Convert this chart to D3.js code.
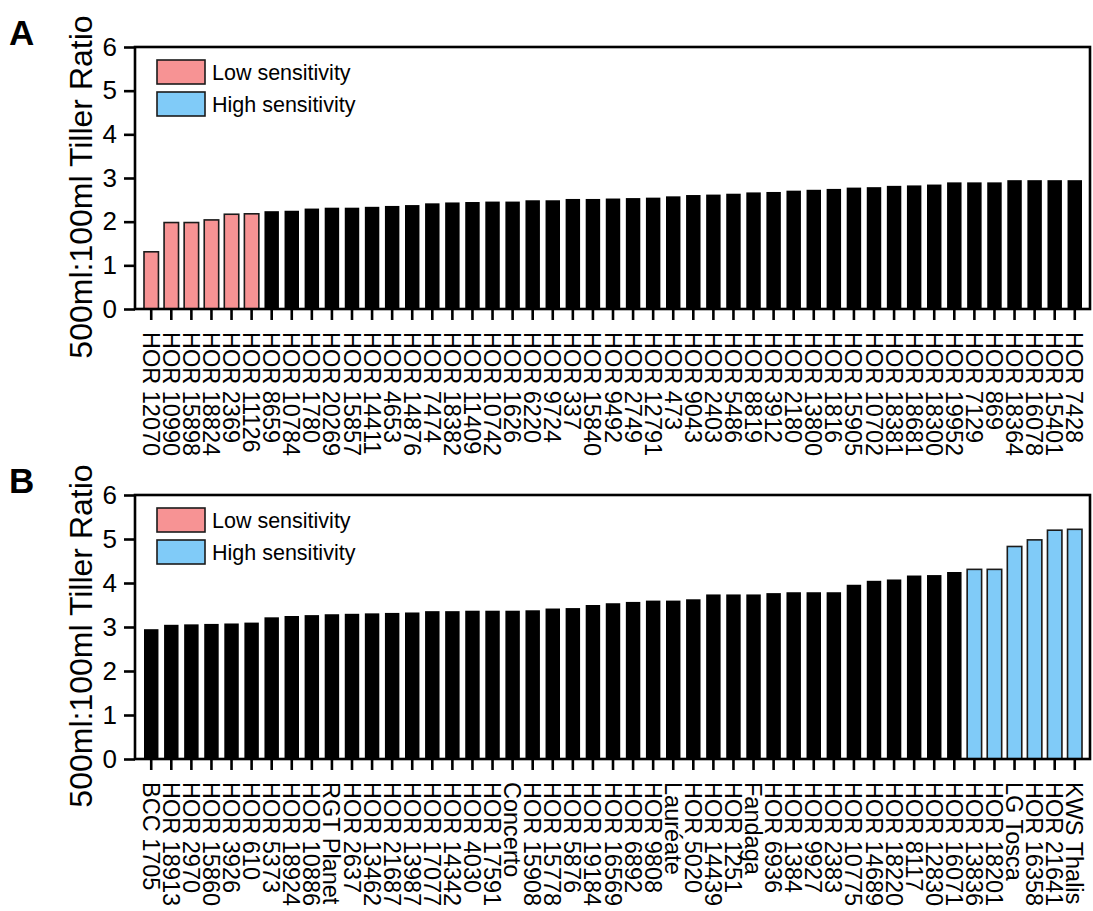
<!DOCTYPE html>
<html>
<head>
<meta charset="utf-8">
<script src="https://cdn.jsdelivr.net/npm/d3@7/dist/d3.min.js"></script>
<style>
  html, body { margin: 0; padding: 0; background: #fff; }
  svg { display: block; font-family: Arial, "Liberation Sans", Helvetica, sans-serif; }
</style>
</head>
<body>
<svg id="chart" width="1093" height="911"></svg>
<script>
// Panel A accessions, sorted by tiller ratio
const namesA = [
  "HOR 12070", "HOR 10990", "HOR 15898", "HOR 18824", "HOR 2369", "HOR 11126",
  "HOR 8659", "HOR 10784", "HOR 1780", "HOR 20269", "HOR 15857", "HOR 14411",
  "HOR 4653", "HOR 14876", "HOR 7474", "HOR 18382", "HOR 11409", "HOR 10742",
  "HOR 1626", "HOR 6220", "HOR 9724", "HOR 337", "HOR 15840", "HOR 9492",
  "HOR 2749", "HOR 12791", "HOR 473", "HOR 9043", "HOR 2403", "HOR 5486",
  "HOR 8819", "HOR 3912", "HOR 2180", "HOR 13800", "HOR 1816", "HOR 15905",
  "HOR 10702", "HOR 18381", "HOR 18681", "HOR 18300", "HOR 19952", "HOR 7129",
  "HOR 869", "HOR 18364", "HOR 16078", "HOR 15401", "HOR 7428"
];
const valuesA = [
  1.31, 1.98, 1.98, 2.04, 2.17, 2.18,
  2.24, 2.25, 2.30, 2.32, 2.32, 2.34,
  2.36, 2.38, 2.42, 2.44, 2.45, 2.46,
  2.46, 2.49, 2.49, 2.52, 2.52, 2.53,
  2.54, 2.55, 2.58, 2.61, 2.62, 2.64,
  2.67, 2.68, 2.71, 2.73, 2.75, 2.78,
  2.79, 2.82, 2.83, 2.85, 2.90, 2.90,
  2.90, 2.95, 2.95, 2.95, 2.95
];
const lowCountA = 6;   // leading bars in panel A flagged as low sensitivity

// Panel B accessions, sorted by tiller ratio
const namesB = [
  "BCC 1705", "HOR 18913", "HOR 2970", "HOR 15860", "HOR 3926", "HOR 610",
  "HOR 5373", "HOR 18924", "HOR 10886", "RGT Planet", "HOR 2637", "HOR 13462",
  "HOR 21687", "HOR 13987", "HOR 17077", "HOR 14342", "HOR 4030", "HOR 17591",
  "Concerto", "HOR 15908", "HOR 15778", "HOR 5876", "HOR 19184", "HOR 16569",
  "HOR 6892", "HOR 9808", "Lauréate", "HOR 5020", "HOR 14439", "HOR 1251",
  "Fandaga", "HOR 6936", "HOR 1384", "HOR 9927", "HOR 2383", "HOR 10775",
  "HOR 14689", "HOR 18220", "HOR 8117", "HOR 12830", "HOR 16071", "HOR 13836",
  "HOR 18201", "LG Tosca", "HOR 16358", "HOR 21641", "KWS Thalis"
];
const valuesB = [
  2.95, 3.05, 3.06, 3.07, 3.08, 3.10,
  3.22, 3.25, 3.27, 3.29, 3.30, 3.31,
  3.32, 3.33, 3.36, 3.36, 3.37, 3.37,
  3.37, 3.38, 3.42, 3.43, 3.50, 3.54,
  3.57, 3.60, 3.60, 3.63, 3.74, 3.74,
  3.74, 3.77, 3.79, 3.79, 3.79, 3.96,
  4.05, 4.08, 4.17, 4.18, 4.25, 4.31,
  4.31, 4.83, 4.98, 5.20, 5.22
];
const highCountB = 6;  // trailing bars in panel B flagged as high sensitivity

const yTicks = [0, 1, 2, 3, 4, 5, 6];
const legendLabels = ["Low sensitivity", "High sensitivity"];

const COLOR_LOW = "#f79394";
const COLOR_HIGH = "#80cbf8";
const COLOR_NONE = "#000000";

const svg = d3.select("#chart");

function drawPanel(opts) {
  const { letter, names, values, colorOf, top, bottom } = opts;
  const left = 135, right = 1090;
  const g = svg.append("g");

  const x = d3.scaleBand()
    .domain(names)
    .range([144, 1082])
    .paddingInner(0.28)
    .paddingOuter(0);

  const y = d3.scaleLinear().domain([0, 6]).range([bottom, top]);

  // bars
  g.append("g").selectAll("rect")
    .data(names.map((n, i) => ({ name: n, value: values[i], i })))
    .join("rect")
    .attr("x", d => x(d.name))
    .attr("width", x.bandwidth())
    .attr("y", d => y(d.value))
    .attr("height", d => y(0) - y(d.value))
    .attr("fill", d => colorOf(d.i))
    .attr("stroke", d => colorOf(d.i) === COLOR_NONE ? "none" : "#1b1b1b")
    .attr("stroke-width", 1.6);

  // y axis
  const yAxis = g.append("g")
    .attr("transform", `translate(${left},0)`)
    .call(d3.axisLeft(y).tickValues(yTicks).tickFormat(d3.format("d")).tickSize(11).tickPadding(7));
  yAxis.select(".domain").remove();
  yAxis.selectAll(".tick line").attr("stroke", "#000").attr("stroke-width", 2.6);
  yAxis.selectAll(".tick text")
    .attr("font-size", 26)
    .attr("font-family", "Arial, 'Liberation Sans', sans-serif")
    .attr("fill", "#000");

  // x axis
  const xAxis = g.append("g")
    .attr("transform", `translate(0,${bottom})`)
    .call(d3.axisBottom(x).tickSize(11).tickSizeOuter(0));
  xAxis.select(".domain").remove();
  xAxis.selectAll(".tick line").attr("stroke", "#000").attr("stroke-width", 2.6);
  xAxis.selectAll(".tick text")
    .attr("font-size", 23.5)
    .attr("font-family", "Arial, 'Liberation Sans', sans-serif")
    .attr("fill", "#000")
    .attr("text-anchor", "start")
    .attr("transform", "translate(0,23) rotate(90)")
    .attr("x", 0)
    .attr("y", 0)
    .attr("dy", "0.36em");

  // plot frame
  g.append("rect")
    .attr("x", left).attr("y", top)
    .attr("width", right - left).attr("height", bottom - top)
    .attr("fill", "none").attr("stroke", "#000").attr("stroke-width", 2.6);

  // y axis title
  g.append("text")
    .attr("transform", `translate(92,${(top + bottom) / 2 + 9}) rotate(-90)`)
    .attr("text-anchor", "middle")
    .attr("font-size", 32)
    .attr("fill", "#000")
    .text("500ml:100ml Tiller Ratio");

  // panel letter
  g.append("text")
    .attr("x", 9).attr("y", top - 2)
    .attr("font-size", 35).attr("font-weight", "bold")
    .attr("fill", "#000")
    .text(letter);

  // legend
  const legend = g.append("g").attr("transform", `translate(157,${top + 13})`);
  const legendColors = [COLOR_LOW, COLOR_HIGH];
  legendLabels.forEach((lab, i) => {
    legend.append("rect")
      .attr("x", 0).attr("y", i * 32)
      .attr("width", 48).attr("height", 24)
      .attr("fill", legendColors[i])
      .attr("stroke", "#1b1b1b").attr("stroke-width", 1.6);
    legend.append("text")
      .attr("x", 55).attr("y", i * 32 + 12)
      .attr("dy", "0.36em")
      .attr("font-size", 21.5)
      .attr("fill", "#000")
      .text(lab);
  });
}

drawPanel({
  letter: "A",
  names: namesA,
  values: valuesA,
  colorOf: i => (i < lowCountA ? COLOR_LOW : COLOR_NONE),
  top: 47,
  bottom: 309
});

drawPanel({
  letter: "B",
  names: namesB,
  values: valuesB,
  colorOf: i => (i >= namesB.length - highCountB ? COLOR_HIGH : COLOR_NONE),
  top: 495,
  bottom: 759
});
</script>
</body>
</html>
